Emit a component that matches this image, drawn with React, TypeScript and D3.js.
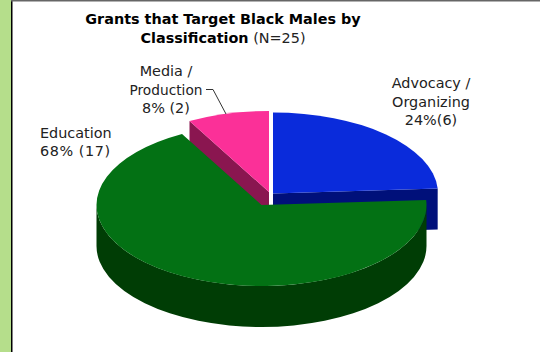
import React from "react";
import * as d3 from "d3";

const categories = ["Advocacy / Organizing", "Education", "Media / Production"];
const percents = [24, 68, 8];
const topColors = ["#0a2bdb", "#037114", "#fb3098"];
const wallColors = ["#00107a", "#003d05", "#8a1650"];
const centers: [number, number][] = [[273, 193.5], [261.5, 205], [269, 192]];
const titleLines = ["Grants that Target Black Males by"];
const font = "'DejaVu Sans', Verdana, sans-serif";
const W = 540, H = 352, RX = 165, RY = 81, DEPTH = 41;

const pt = (c: [number, number], a: number): [number, number] => [c[0] + RX * Math.sin(a), c[1] - RY * Math.cos(a)];

export default function App() {
  const pie = d3.pie<number>().sort(null).value((d) => d);
  const arcs = pie(percents);
  const arc = d3.arc<d3.PieArcDatum<number>>().innerRadius(0).outerRadius(RX);

  const radialWall = (c: [number, number], a: number) => {
    const p = pt(c, a);
    return `M${c[0]},${c[1]}L${p[0]},${p[1]}L${p[0]},${p[1] + DEPTH}L${c[0]},${c[1] + DEPTH}Z`;
  };
  const outerWall = (c: [number, number], a0: number, a1: number) => {
    const s = Math.max(a0, Math.PI / 2), e = Math.min(a1, (3 * Math.PI) / 2);
    if (s >= e) return "";
    const p = pt(c, s), q = pt(c, e);
    return `M${p[0]},${p[1]}A${RX},${RY} 0 0 1 ${q[0]},${q[1]}L${q[0]},${q[1] + DEPTH}A${RX},${RY} 0 0 0 ${p[0]},${p[1] + DEPTH}Z`;
  };

  const [blue, green, pink] = arcs;
  const sy = RY / RX;
  const top = (i: number) => (
    <path
      d={arc(arcs[i]) as string}
      transform={`translate(${centers[i][0]},${centers[i][1]}) scale(1,${sy})`}
      fill={topColors[i]}
    />
  );
  const tStyle = { fontFamily: font, fontSize: 14.4, fill: "#222" };

  return (
    <svg width={W} height={H} style={{ position: "absolute", left: 0, top: 0, background: "#fff" }}>
      <rect x={0} y={0} width={11} height={H} fill="#b5de8b" />
      <rect x={11} y={0} width={1.5} height={H} fill="#000" />
      <rect x={11} y={0} width={W - 11} height={1.5} fill="#666" />

      <path d={radialWall(centers[2], pink.startAngle)} fill={wallColors[2]} />
      {top(2)}
      <path d={radialWall(centers[0], blue.endAngle)} fill={wallColors[0]} />
      <path d={outerWall(centers[0], blue.startAngle, blue.endAngle)} fill={wallColors[0]} />
      {top(0)}
      <path d={outerWall(centers[1], green.startAngle, green.endAngle)} fill={wallColors[1]} />
      {top(1)}

      <polyline points="206,89.5 213,89.5 226,114" fill="none" stroke="#333" strokeWidth={1} />

      <text x={223} y={24} textAnchor="middle" style={{ ...tStyle, fontWeight: "bold", fill: "#000" }}>{titleLines[0]}</text>
      <text x={223} y={43} textAnchor="middle" style={tStyle}>
        <tspan fontWeight="bold" fill="#000">Classification</tspan> (N=25)
      </text>

      <text textAnchor="middle" style={tStyle}>
        <tspan x={166} y={76}>Media /</tspan>
        <tspan x={166} y={95} textLength={73} lengthAdjust="spacingAndGlyphs">Production</tspan>
        <tspan x={166} y={113}>8% (2)</tspan>
      </text>
      <text style={tStyle}>
        <tspan x={40} y={138}>Education</tspan>
        <tspan x={40} y={156} textLength={70}>68% (17)</tspan>
      </text>
      <text textAnchor="middle" style={tStyle}>
        <tspan x={431} y={88}>Advocacy /</tspan>
        <tspan x={431} y={107}>Organizing</tspan>
        <tspan x={431} y={125}>24%(6)</tspan>
      </text>
    </svg>
  );
}
